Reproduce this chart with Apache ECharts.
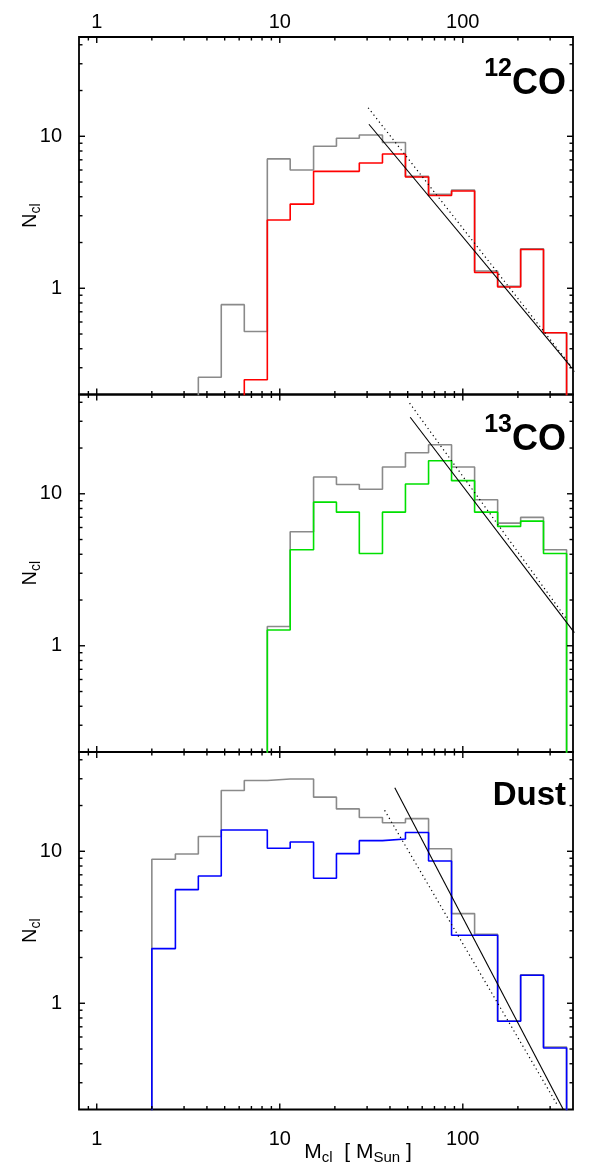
<!DOCTYPE html>
<html>
<head>
<meta charset="utf-8">
<script src="https://cdn.jsdelivr.net/npm/echarts@6/dist/echarts.min.js"></script>
<style>
  html, body { margin: 0; padding: 0; background: #ffffff; }
  #chart { width: 603px; height: 1171px; }
</style>
</head>
<body>
<div id="chart"></div>
<script>
// Clump mass function: bin edges in M_Sun, shared by all panels
const binEdges = [2.0, 2.69, 3.59, 4.79, 6.40, 8.55, 11.4, 15.3, 20.4, 27.2, 36.4, 48.6, 65.0, 86.8, 116, 155, 207, 276, 369];

// Number of clumps per bin (0 = empty bin)
const co12All   = [0, 0, 0.26, 0.78, 0.52, 7.1, 6.0, 8.6, 9.7, 10.2, 9.1, 5.45, 4.15, 4.43, 1.30, 1.03, 1.82, 0.51];
const co12Sel   = [0, 0, 0, 0, 0.25, 2.81, 3.58, 5.88, 5.88, 6.67, 7.65, 5.39, 4.08, 4.36, 1.27, 1.02, 1.80, 0.51];
const co13All   = [0, 0, 0, 0, 0, 1.34, 5.62, 12.9, 11.5, 10.7, 15.0, 18.6, 21.0, 15.0, 9.13, 6.41, 6.99, 4.28];
const co13Sel   = [0, 0, 0, 0, 0, 1.27, 4.28, 8.81, 7.57, 4.05, 7.57, 11.6, 16.5, 12.2, 7.57, 6.10, 6.61, 4.05];
const dustAll   = [8.86, 9.6, 12.5, 25.1, 29.2, 29.9, 29.9, 22.7, 19.0, 16.7, 15.4, 16.4, 10.4, 3.89, 2.84, 0.765, 1.54, 0.516];
const dustSel   = [2.29, 5.59, 6.88, 13.8, 13.8, 10.46, 11.5, 6.64, 9.65, 11.75, 12.05, 13.3, 8.64, 2.80, 2.80, 0.761, 1.53, 0.508];

// Power-law fits (end points: [mass, N])
const co12Fit      = [[30.7, 12.0], [390, 0.304]];
const co12FitAlt   = [[30.4, 15.4], [411, 0.284]];
const co13Fit      = [[51.6, 31.9], [407, 1.22]];
const co13FitAlt   = [[51.2, 39.5], [369, 1.50]];
const dustFit      = [[42.5, 26.2], [354, 0.20]];
const dustFitAlt   = [[37.4, 18.6], [331, 0.211]];

// Axis ticks
const xTickValues = [1, 10, 100];
const xTickLabels = ['1', '10', '100'];
const xMinorTicks = [0.9, 2, 3, 4, 5, 6, 7, 8, 9, 20, 30, 40, 50, 60, 70, 80, 90, 200, 300];
const yTickValues = [1, 10];
const yTickLabels = ['1', '10'];
const yMinorTicks = [0.3, 0.4, 0.5, 0.6, 0.7, 0.8, 0.9, 2, 3, 4, 5, 6, 7, 8, 9, 20, 30, 40];

const X_MIN = 0.8, X_MAX = 400;
const Y_MIN = 0.2, Y_MAX = 45;
const FLOOR = 0.05;   // empty bins are drawn below the plot floor and clipped

const FONT = '"Liberation Sans", Arial, Helvetica, sans-serif';
const GRID_LEFT = 79, GRID_WIDTH = 494, GRID_HEIGHT = 357.5;
const gridTops = [37, 394.5, 752];

const panels = [
  { all: co12All, sel: co12Sel, color: '#ff0000', fit: co12Fit, fitAlt: co12FitAlt },
  { all: co13All, sel: co13Sel, color: '#00e000', fit: co13Fit, fitAlt: co13FitAlt },
  { all: dustAll, sel: dustSel, color: '#0000ff', fit: dustFit, fitAlt: dustFitAlt }
];

function stepLine(values) {
  const pts = [[binEdges[0], FLOOR]];
  values.forEach((v, k) => {
    const y = v > 0 ? v : FLOOR;
    pts.push([binEdges[k], y], [binEdges[k + 1], y]);
  });
  pts.push([binEdges[binEdges.length - 1], FLOOR]);
  return pts;
}

function matchLabel(value, values, labels) {
  for (let i = 0; i < values.length; i++) {
    if (Math.abs(value - values[i]) / values[i] < 1e-6) return labels[i];
  }
  return '';
}

// Inward-pointing ticks on all four sides of a panel
function tickRenderer(params, api) {
  const children = [];
  const MAJOR = 6, MINOR = 3.5;
  const style = { stroke: '#000', lineWidth: 1.4 };
  const addX = (v, len) => {
    const b = api.coord([v, Y_MIN]);
    const t = api.coord([v, Y_MAX]);
    children.push({ type: 'line', shape: { x1: b[0], y1: b[1], x2: b[0], y2: b[1] - len }, style });
    children.push({ type: 'line', shape: { x1: t[0], y1: t[1], x2: t[0], y2: t[1] + len }, style });
  };
  const addY = (v, len) => {
    const l = api.coord([X_MIN, v]);
    const r = api.coord([X_MAX, v]);
    children.push({ type: 'line', shape: { x1: l[0], y1: l[1], x2: l[0] + len, y2: l[1] }, style });
    children.push({ type: 'line', shape: { x1: r[0], y1: r[1], x2: r[0] - len, y2: r[1] }, style });
  };
  xTickValues.forEach(v => addX(v, MAJOR));
  xMinorTicks.forEach(v => addX(v, MINOR));
  yTickValues.forEach(v => addY(v, MAJOR));
  yMinorTicks.forEach(v => addY(v, MINOR));
  return { type: 'group', children };
}

const grids = [], xAxes = [], yAxes = [], series = [];

panels.forEach((p, i) => {
  grids.push({
    left: GRID_LEFT, width: GRID_WIDTH, top: gridTops[i], height: GRID_HEIGHT,
    show: true, borderColor: '#000', borderWidth: 1.8, backgroundColor: 'transparent'
  });

  const showX = i === 0 || i === 2;
  xAxes.push({
    type: 'log', logBase: 10, gridIndex: i, min: X_MIN, max: X_MAX,
    position: i === 0 ? 'top' : 'bottom',
    axisLine: { show: false }, axisTick: { show: false }, splitLine: { show: false }, minorTick: { show: false },
    axisLabel: {
      show: showX, color: '#000', fontSize: 20, fontFamily: FONT,
      margin: i === 0 ? 5 : 20, showMinLabel: true, showMaxLabel: true,
      formatter: v => matchLabel(v, xTickValues, xTickLabels)
    },
    name: i === 2 ? '{m|M}{s|cl}{m|  [ M}{s|Sun}{m| ]}' : '',
    nameLocation: 'middle', nameGap: 30, nameMoveOverlap: false,
    nameTextStyle: {
      color: '#000', padding: [0, 0, 0, 64],
      rich: {
        m: { fontSize: 21, fontFamily: FONT, color: '#000', lineHeight: 26 },
        s: { fontSize: 15, fontFamily: FONT, color: '#000', verticalAlign: 'bottom', lineHeight: 15 }
      }
    }
  });

  yAxes.push({
    type: 'log', logBase: 10, gridIndex: i, min: Y_MIN, max: Y_MAX,
    axisLine: { show: false }, axisTick: { show: false }, splitLine: { show: false }, minorTick: { show: false },
    axisLabel: {
      color: '#000', fontSize: 20, fontFamily: FONT, margin: 17,
      formatter: v => matchLabel(v, yTickValues, yTickLabels)
    },
    name: '{n|N}{s|cl}', nameLocation: 'middle', nameRotate: 90, nameGap: 36, nameMoveOverlap: false,
    nameTextStyle: {
      rich: {
        n: { fontSize: 20, fontFamily: FONT, color: '#000', lineHeight: 26 },
        s: { fontSize: 14, fontFamily: FONT, color: '#000', verticalAlign: 'bottom', lineHeight: 14 }
      }
    }
  });

  series.push({
    type: 'line', xAxisIndex: i, yAxisIndex: i, data: stepLine(p.all),
    showSymbol: false, clip: true, lineStyle: { color: '#8a8a8a', width: 1.6 }, z: 2
  });
  series.push({
    type: 'line', xAxisIndex: i, yAxisIndex: i, data: stepLine(p.sel),
    showSymbol: false, clip: true, lineStyle: { color: p.color, width: 1.6 }, z: 3
  });
  series.push({
    type: 'line', xAxisIndex: i, yAxisIndex: i, data: p.fit,
    showSymbol: false, clip: true, lineStyle: { color: '#000', width: 1.1 }, z: 4
  });
  series.push({
    type: 'line', xAxisIndex: i, yAxisIndex: i, data: p.fitAlt,
    showSymbol: false, clip: true, lineStyle: { color: '#000', width: 1.2, type: [1.2, 3.2] }, z: 4
  });
  series.push({
    type: 'custom', xAxisIndex: i, yAxisIndex: i, data: [[1, 1]],
    renderItem: tickRenderer, silent: true, z: 5
  });
});

const labelRich = {
  sup: { fontSize: 25, fontWeight: 'bold', fontFamily: FONT, color: '#000', verticalAlign: 'top', lineHeight: 25 },
  m: { fontSize: 36, fontWeight: 'bold', fontFamily: FONT, color: '#000', lineHeight: 54 }
};

const chart = echarts.init(document.getElementById('chart'), null, { renderer: 'canvas' });
chart.setOption({
  animation: false,
  backgroundColor: '#ffffff',
  title: [
    { text: '{sup|12}{m|CO}', right: 37, top: 57, padding: 0, textStyle: { rich: labelRich } },
    { text: '{sup|13}{m|CO}', right: 37, top: 413, padding: 0, textStyle: { rich: labelRich } },
    { text: 'Dust', right: 37, top: 776, padding: 0,
      textStyle: { fontSize: 33, fontWeight: 'bold', fontFamily: FONT, color: '#000', lineHeight: 40 } }
  ],
  grid: grids,
  xAxis: xAxes,
  yAxis: yAxes,
  series: series
});
</script>
</body>
</html>
